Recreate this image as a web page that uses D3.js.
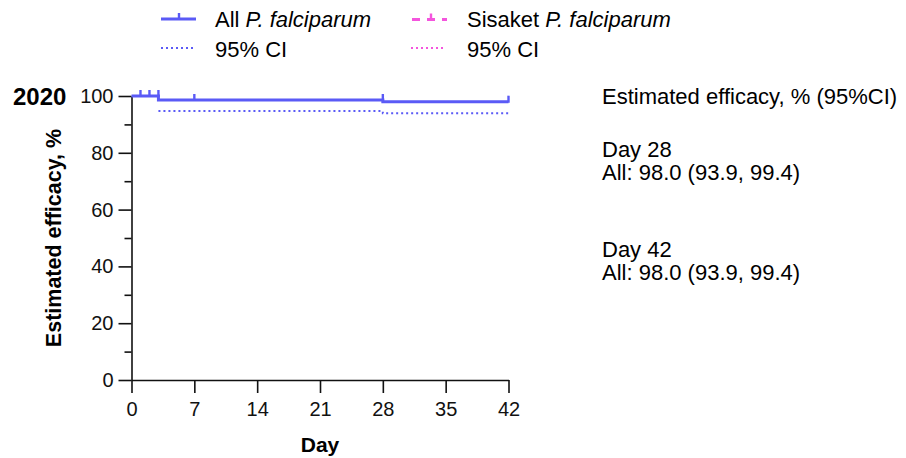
<!DOCTYPE html>
<html>
<head>
<meta charset="utf-8">
<script src="https://cdn.jsdelivr.net/npm/d3@7"></script>
<style>
  body { margin: 0; background: #fff; }
  svg { font-family: "Liberation Sans", Arial, sans-serif; }
</style>
</head>
<body>
<div id="chart"></div>
<script>
// data
var kmDays = [0, 3, 28, 42];
var kmAll = [100, 98.6, 98.0, 98.0];
var ciLowerAll = [100, 94.7, 93.9, 93.9];
var censorDays = [1, 2, 3, 7, 28, 42];
var censorValues = [100, 100, 100, 98.6, 98.6, 98.0];
var xTicks = [0, 7, 14, 21, 28, 35, 42];
var yTicks = [0, 20, 40, 60, 80, 100];
var yMinorTicks = [10, 30, 50, 70, 90];
var summaryLines = ["Estimated efficacy, % (95%CI)", "Day 28", "All: 98.0 (93.9, 99.4)", "Day 42", "All: 98.0 (93.9, 99.4)"];

const width = 906;
const height = 458;
const blue = "#5a5af6";
const pink = "#f455dd";

var svg = d3.select("#chart")
    .append("svg")
    .attr("width", width)
    .attr("height", height);

var x = d3.scaleLinear().domain([0, 42]).range([131.5, 508.5]);
var y = d3.scaleLinear().domain([0, 100]).range([380, 96]);

// axes
svg.append("g")
    .attr("transform", `translate(${x(0)},0)`)
    .call(d3.axisLeft(y).tickValues(yTicks).tickSize(13).tickSizeOuter(0).tickPadding(5));

svg.append("g")
    .attr("transform", `translate(${x(0)},0)`)
    .call(d3.axisLeft(y).tickValues(yMinorTicks).tickSize(7).tickFormat(""))
    .select(".domain").remove();

svg.append("g")
    .attr("transform", `translate(0,${y(0)})`)
    .call(d3.axisBottom(x).tickValues(xTicks).tickSize(13).tickSizeOuter(0).tickPadding(9));

svg.selectAll(".tick line, .domain")
    .attr("stroke", "#111")
    .attr("stroke-width", 1.6);
svg.selectAll(".tick text")
    .attr("font-size", 20)
    .attr("fill", "#111")
    .attr("font-family", "Liberation Sans, Arial, sans-serif");

// step lines
var stepLine = d3.line()
    .x(function (d) { return x(d[0]); })
    .y(function (d) { return y(d[1]); })
    .curve(d3.curveStepAfter);

svg.append("path")
    .datum(d3.zip(kmDays, ciLowerAll).slice(1))
    .attr("d", stepLine)
    .attr("fill", "none")
    .attr("stroke", blue)
    .attr("stroke-width", 2)
    .attr("stroke-dasharray", "2,3");

svg.append("path")
    .datum(d3.zip(kmDays, kmAll))
    .attr("d", stepLine)
    .attr("fill", "none")
    .attr("stroke", blue)
    .attr("stroke-width", 3);

// censor marks
svg.append("g").selectAll("line")
    .data(d3.zip(censorDays, censorValues))
    .enter()
    .append("line")
    .attr("x1", function (d) { return x(d[0]); })
    .attr("x2", function (d) { return x(d[0]); })
    .attr("y1", function (d) { return y(d[1]) + 1; })
    .attr("y2", function (d) { return y(d[1]) - 6; })
    .attr("stroke", blue)
    .attr("stroke-width", 2.4);

// axis titles
svg.append("text")
    .attr("x", 320)
    .attr("y", 452)
    .attr("text-anchor", "middle")
    .attr("font-size", 21)
    .attr("font-weight", "bold")
    .text("Day");

svg.append("text")
    .attr("transform", "translate(61,238) rotate(-90)")
    .attr("text-anchor", "middle")
    .attr("font-size", 21.5)
    .attr("font-weight", "bold")
    .text("Estimated efficacy, %");

svg.append("text")
    .attr("x", 13)
    .attr("y", 105)
    .attr("font-size", 24)
    .attr("font-weight", "bold")
    .text("2020");

// legend
var legend = svg.append("g");
legend.append("line")
    .attr("x1", 161).attr("x2", 196).attr("y1", 19).attr("y2", 19)
    .attr("stroke", blue).attr("stroke-width", 3);
legend.append("line")
    .attr("x1", 179).attr("x2", 179).attr("y1", 19).attr("y2", 13)
    .attr("stroke", blue).attr("stroke-width", 2.4);
legend.append("line")
    .attr("x1", 161).attr("x2", 196).attr("y1", 48).attr("y2", 48)
    .attr("stroke", blue).attr("stroke-width", 2).attr("stroke-dasharray", "2,3");
legend.append("line")
    .attr("x1", 412).attr("x2", 447).attr("y1", 19.5).attr("y2", 19.5)
    .attr("stroke", pink).attr("stroke-width", 3).attr("stroke-dasharray", "8,7");
legend.append("line")
    .attr("x1", 431).attr("x2", 431).attr("y1", 19.5).attr("y2", 13.5)
    .attr("stroke", pink).attr("stroke-width", 2.4);
legend.append("line")
    .attr("x1", 411).attr("x2", 446).attr("y1", 48).attr("y2", 48)
    .attr("stroke", pink).attr("stroke-width", 2).attr("stroke-dasharray", "2,3");

var t1 = legend.append("text").attr("x", 215).attr("y", 27).attr("font-size", 22);
t1.append("tspan").text("All ");
t1.append("tspan").attr("font-style", "italic").text("P. falciparum");
legend.append("text").attr("x", 215).attr("y", 57).attr("font-size", 22).text("95% CI");

var t2 = legend.append("text").attr("x", 467).attr("y", 27).attr("font-size", 22);
t2.append("tspan").text("Sisaket ");
t2.append("tspan").attr("font-style", "italic").text("P. falciparum");
legend.append("text").attr("x", 467).attr("y", 57).attr("font-size", 22).text("95% CI");

// summary text on the right
var summaryY = [104, 157, 180, 257, 280];
svg.append("g").selectAll("text")
    .data(summaryLines)
    .enter()
    .append("text")
    .attr("x", 602)
    .attr("y", function (d, i) { return summaryY[i]; })
    .attr("font-size", 22)
    .text(function (d) { return d; });
</script>
</body>
</html>
